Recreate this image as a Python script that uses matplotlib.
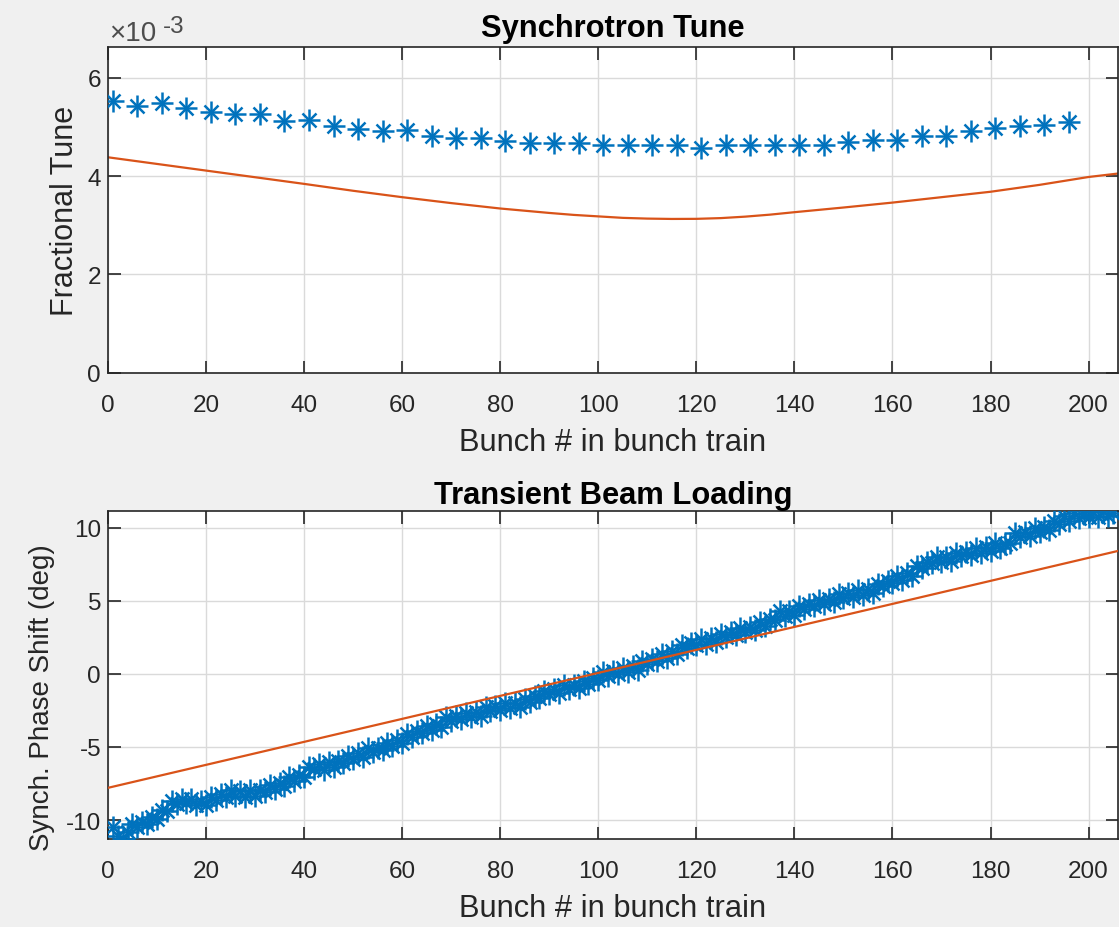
import numpy as np
import matplotlib
matplotlib.use('Agg')
import matplotlib.pyplot as plt
from matplotlib.ticker import FuncFormatter

plt.rcParams['font.family'] = ['Liberation Sans', 'DejaVu Sans']
plt.rcParams['axes.unicode_minus'] = False

BLUE = '#0072BD'
RED = '#D95319'
DARK = '#262626'

# Synchrotron tune, tracked every 5th bunch (units of 1e-3)
tune_bunch = list(range(1, 197, 5))
tune_meas = [5.53, 5.43, 5.49, 5.39, 5.30, 5.26, 5.26, 5.11, 5.13, 5.01,
             4.96, 4.92, 4.94, 4.82, 4.78, 4.78, 4.72, 4.67, 4.67, 4.67,
             4.62, 4.62, 4.62, 4.62, 4.57, 4.62, 4.62, 4.62, 4.62, 4.62,
             4.69, 4.74, 4.74, 4.82, 4.82, 4.92, 4.97, 5.01, 5.04, 5.10]
# analytic curve
calc_bunch = [0, 10, 20, 30, 40, 50, 60, 70, 80, 90, 95, 100, 105, 110, 115,
              120, 125, 130, 135, 140, 150, 160, 170, 180, 190, 200, 206]
tune_calc = [4.38, 4.245, 4.11, 3.975, 3.84, 3.70, 3.57, 3.45, 3.34, 3.25,
             3.21, 3.18, 3.15, 3.135, 3.128, 3.13, 3.145, 3.175, 3.215, 3.265,
             3.36, 3.46, 3.57, 3.68, 3.82, 3.98, 4.05]

# Transient beam loading, every bunch
phase_bunch = list(range(1, 206))
phase_meas = [
    -10.5, -11.1, -11.3, -10.85, -10.25, -10.5, -10.15, -10.3, -9.8, -9.9,
    -9.3, -9.4, -8.7, -8.9, -8.55, -8.87, -8.55, -8.98, -8.7, -9.0,
    -8.45, -8.65, -8.25, -8.4, -7.93, -8.33, -8.03, -8.4, -7.95, -8.34,
    -7.95, -8.1, -7.6, -7.87, -7.45, -7.7, -7.08, -7.3, -6.9, -7.05,
    -6.4, -6.5, -6.2, -6.55, -6.05, -6.4, -5.98, -6.12, -5.6, -5.85,
    -5.4, -5.67, -5.1, -5.38, -5.05, -5.21, -4.71, -4.97, -4.52, -4.73,
    -4.09, -4.3, -3.91, -4.08, -3.6, -3.86, -3.42, -3.63, -2.99, -3.2,
    -2.87, -3.09, -2.66, -2.98, -2.6, -2.87, -2.29, -2.56, -2.23, -2.45,
    -2.03, -2.37, -2.0, -2.28, -1.72, -1.92, -1.51, -1.66, -1.15, -1.4,
    -1.04, -1.33, -0.76, -1.05, -0.74, -0.98, -0.47, -0.71, -0.26, -0.45,
    0.13, -0.13, 0.2, -0.01, 0.42, 0.11, 0.52, 0.29, 0.9, 0.67,
    1.03, 0.87, 1.37, 1.11, 1.55, 1.33, 1.96, 1.74, 2.12, 1.95,
    2.38, 2.05, 2.43, 2.15, 2.73, 2.49, 2.85, 2.67, 3.13, 2.84,
    3.23, 2.97, 3.55, 3.29, 3.77, 3.69, 4.27, 3.95, 4.32, 4.05,
    4.66, 4.43, 4.79, 4.61, 5.07, 4.76, 5.14, 4.88, 5.46, 5.18,
    5.51, 5.28, 5.7, 5.39, 5.79, 5.53, 6.17, 5.97, 6.36, 6.2,
    6.69, 6.44, 6.88, 6.67, 7.37, 7.22, 7.67, 7.57, 7.98, 7.64,
    7.99, 7.7, 8.29, 8.02, 8.36, 8.14, 8.58, 8.26, 8.65, 8.38,
    8.92, 8.6, 8.89, 8.95, 9.65, 9.36, 9.72, 9.43, 9.99, 9.7,
    10.05, 9.85, 10.43, 10.25, 10.78, 10.46, 10.99, 10.66, 10.94, 10.69,
    11.09, 10.75, 11.1, 10.77, 11.0]
phase_line_bunch = [0, 50, 100, 150, 206]
phase_calc = [-7.8, -3.87, 0.06, 3.99, 8.4]

TICK_FS = 17.5
LABEL_FS = 22.2


def star(ax, x, y, ms):
    # MATLAB style asterisk marker
    ax.plot(x, y, ls='none', marker='+', ms=ms, mew=1.8, color=BLUE, zorder=3)
    ax.plot(x, y, ls='none', marker='x', ms=ms * 0.68, mew=1.8, color=BLUE, zorder=3)


def style(ax):
    ax.set_facecolor('white')
    ax.grid(True, color='#DADADA', lw=1.0)
    ax.set_axisbelow(True)
    for s in ax.spines.values():
        s.set_color(DARK)
        s.set_linewidth(1.2)
    ax.tick_params(direction='in', length=9, width=1.2, colors=DARK,
                   labelsize=TICK_FS, top=True, right=True)
    ax.tick_params(axis='x', pad=15)
    ax.tick_params(axis='y', pad=5)
    ax.set_xlim(0, 206)
    ax.set_xticks(range(0, 201, 20))


fig = plt.figure(figsize=(11.19, 9.28), dpi=100, facecolor='#F0F0F0')

ax1 = fig.add_axes([0.0965, 0.597, 0.9026, 0.3513])
style(ax1)
ax1.plot(np.array(calc_bunch), np.array(tune_calc) * 1e-3, color=RED, lw=1.6, zorder=2)
star(ax1, np.array(tune_bunch), np.array(tune_meas) * 1e-3, 15.5)
ax1.set_ylim(0, 6.62e-3)
ax1.set_yticks([0, 2e-3, 4e-3, 6e-3])
ax1.yaxis.set_major_formatter(FuncFormatter(lambda v, p: '%g' % round(v * 1e3, 6)))
ax1.annotate('\u00d710', xy=(0, 1), xycoords='axes fraction', xytext=(1, 7),
             textcoords='offset pixels', fontsize=20, color='#4D4D4D',
             ha='left', va='baseline')
ax1.annotate('-3', xy=(0, 1), xycoords='axes fraction', xytext=(55, 15),
             textcoords='offset pixels', fontsize=17.5, color='#4D4D4D',
             ha='left', va='baseline')
ax1.set_title('Synchrotron Tune', fontsize=LABEL_FS, fontweight='bold', color='black', pad=8)
ax1.set_xlabel('Bunch # in bunch train', fontsize=LABEL_FS, color=DARK, labelpad=8)
ax1.set_ylabel('Fractional Tune', fontsize=22, color=DARK, labelpad=5)

ax2 = fig.add_axes([0.0965, 0.0948, 0.9026, 0.353])
style(ax2)
ax2.plot(phase_line_bunch, phase_calc, color=RED, lw=1.6, zorder=4)
star(ax2, phase_bunch, phase_meas, 15.5)
ax2.set_ylim(-11.3, 11.1)
ax2.set_yticks([-10, -5, 0, 5, 10])
ax2.set_title('Transient Beam Loading', fontsize=LABEL_FS, fontweight='bold', color='black', pad=6)
ax2.set_xlabel('Bunch # in bunch train', fontsize=LABEL_FS, color=DARK, labelpad=8)
ax2.set_ylabel('Synch. Phase Shift (deg)', fontsize=20, color=DARK, labelpad=8, y=0.435)

fig.savefig('out.png', dpi=100, facecolor=fig.get_facecolor())
